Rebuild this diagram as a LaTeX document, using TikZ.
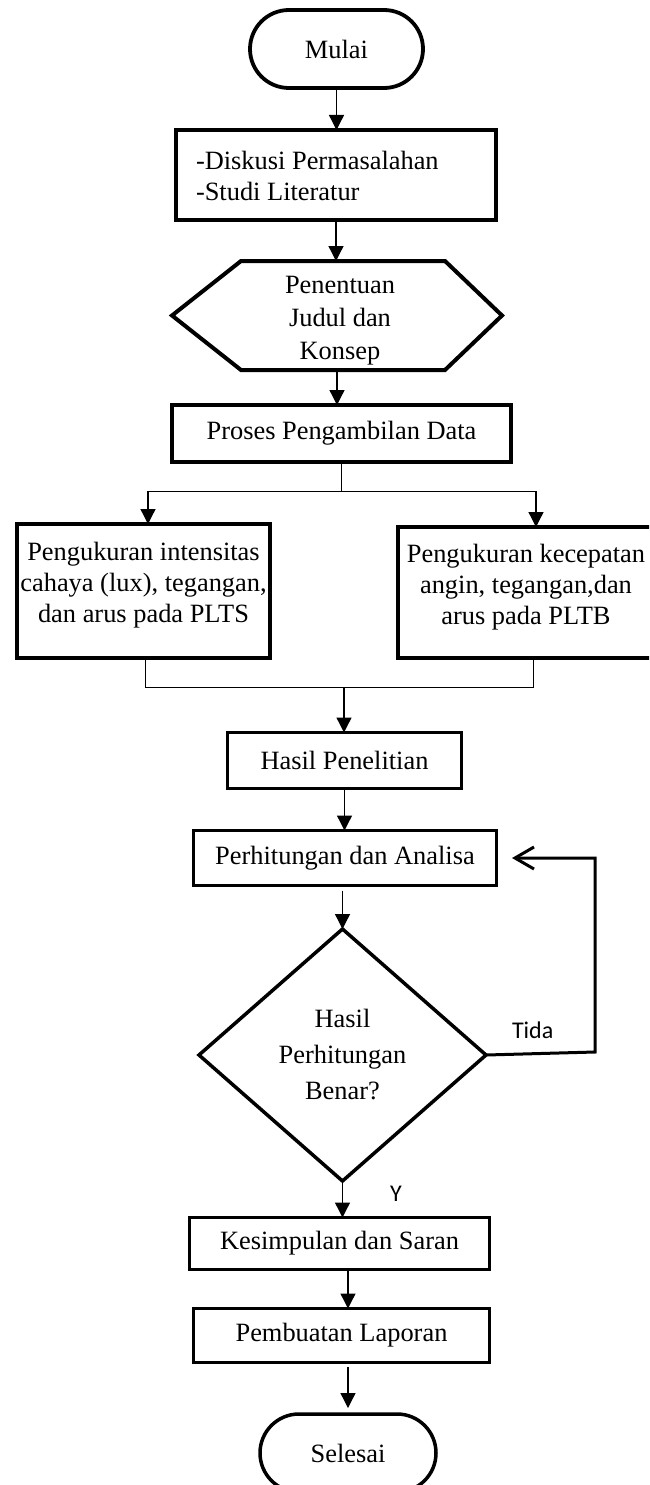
\documentclass[tikz,border=0pt]{standalone}
\usepackage{fontspec}
\setmainfont{Liberation Serif}
\newfontfamily\calfont{Carlito}
\usetikzlibrary{shapes.misc,shapes.geometric,arrows.meta}
\begin{document}
\begin{tikzpicture}[x=1pt,y=-1pt,
  font=\fontsize{26.4}{31}\selectfont,
  every node/.style={inner sep=0pt, outer sep=0pt},
  thickbox/.style={draw, line width=4pt, rectangle},
  thinbox/.style={draw, line width=3pt, rectangle},
  term/.style={draw, line width=3.8pt, rounded rectangle},
  conn/.style={line width=1.3pt, -{Triangle[width=15pt,length=15pt]}},
  plainline/.style={line width=1pt},
  backline/.style={line width=3pt, -{Straight Barb[length=19pt,width=22pt]}},
  lbl/.style={font=\calfont\fontsize{24}{28}\selectfont}
]
\useasboundingbox (0,0) rectangle (649,1485);
\clip (0,0) rectangle (649,1485);

% nodes
\node[term, minimum width=173, minimum height=78] (start) at (336.5,49) {Mulai};
\node[thickbox, minimum width=320, minimum height=90] (b1) at (336,175) {};
\node[anchor=west, align=left] (b1t) at (196,176) {-Diskusi Permasalahan\\-Studi Literatur};
\node[minimum width=330, minimum height=109] (hex) at (337,315.5) {};
\draw[line width=4pt, line join=miter] (hex.west) -- ([xshift=69pt]hex.north west) -- ([xshift=-57pt]hex.north east)
  -- (hex.east) -- ([xshift=-57pt]hex.south east) -- ([xshift=69pt]hex.south west) -- cycle;
\node[align=center, font=\fontsize{26.4}{33}\selectfont] (hext) at (340,321) {Penentuan\\Judul dan\\Konsep};
\node[thickbox, minimum width=339, minimum height=57] (proses) at (341.5,433.5) {Proses Pengambilan Data};
\node[thickbox, minimum width=253, minimum height=134] (lbox) at (143.5,591) {};
\node[align=center] (ltext) at (143.5,585) {Pengukuran intensitas\\cahaya (lux), tegangan,\\dan arus pada PLTS};
\node[thickbox, minimum width=255, minimum height=131] (rbox) at (525.5,592.5) {};
\node[align=center] (rtext) at (526,587) {Pengukuran kecepatan\\angin, tegangan,dan\\arus pada PLTB};
\node[thinbox, minimum width=234, minimum height=56] (hasil) at (344.5,760.5) {Hasil Penelitian};
\node[thinbox, minimum width=303, minimum height=55] (perh) at (345,858) {Perhitungan dan Analisa};
\node[draw, diamond, line width=3.5pt, minimum width=287, minimum height=252, align=center,
      font=\fontsize{26.4}{36}\selectfont] (dia) at (342.5,1055) {Hasil\\Perhitungan\\Benar?};
\node[thinbox, minimum width=300, minimum height=52] (kes) at (339.5,1243.5) {Kesimpulan dan Saran};
\node[thinbox, line width=3.5pt, minimum width=296, minimum height=54] (pemb) at (341.5,1335.5) {Pembuatan Laporan};
\node[term, line width=3.5pt, minimum width=176, minimum height=78] (end) at (348,1453) {Selesai};

% labels
\node[lbl, anchor=base west] (tida) at (512,1038) {Tida};
\node[lbl] (ylbl) at (396,1194) {Y};

% helper coordinates
\coordinate (spL) at (148,491);
\coordinate (spR) at (536,491);
\coordinate (mL) at (145,687);
\coordinate (mR) at (533,687);
\coordinate (mC) at (344,687);
\coordinate (fb1) at (595,1052);
\coordinate (fb2) at (595,858);
\coordinate (fbEnd) at (512,858);

% connectors
\draw[conn] (start.south) -- (start.south |- b1.north);
\draw[conn] (b1.south) -- (b1.south |- hex.north);
\draw[conn] (hex.south) -- (hex.south |- proses.north);
\draw[plainline] (proses.south) -- (proses.south |- spL);
\draw[plainline] (spL) -- (spR);
\draw[conn] (spL) -- (spL |- lbox.north);
\draw[conn] (spR) -- (spR |- rbox.north);
\draw[plainline] (lbox.south -| mL) -- (mL) -- (mR) -- (rbox.south -| mR);
\draw[conn] (mC) -- (mC |- hasil.north);
\draw[conn] (hasil.south) -- (hasil.south |- perh.north);
\draw[conn, shorten <=5pt] (perh.south -| dia.north) -- (dia.north);
\draw[backline] (dia.east) -- (fb1) -- (fb2) -- (fbEnd);
\draw[conn] (dia.south) -- (dia.south |- kes.north);
\draw[conn] ([xshift=8.5pt]kes.south) -- ([xshift=6.5pt]pemb.north);
\draw[conn, shorten <=4pt, shorten >=6pt] ([xshift=6.5pt]pemb.south) -- (end.north);
\end{tikzpicture}
\end{document}
